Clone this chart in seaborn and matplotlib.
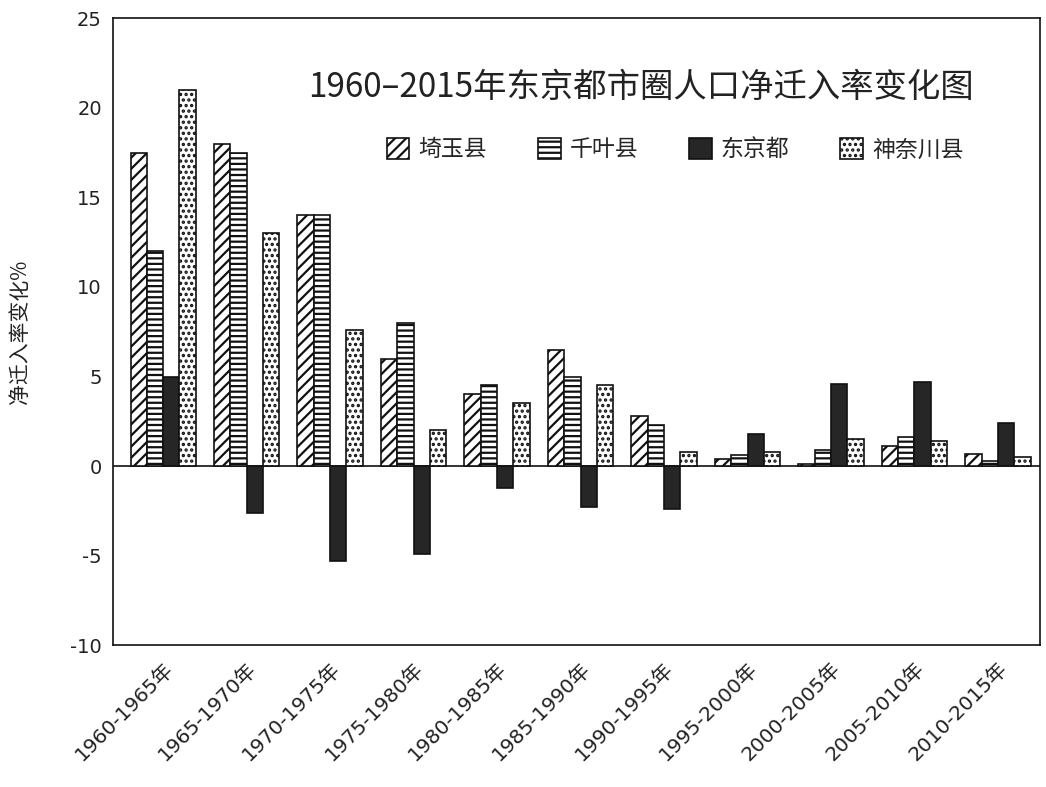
import matplotlib
matplotlib.use("Agg")
import matplotlib.pyplot as plt
import seaborn as sns
import pandas as pd
import numpy as np

periods = ["1960-1965年", "1965-1970年", "1970-1975年", "1975-1980年", "1980-1985年",
           "1985-1990年", "1990-1995年", "1995-2000年", "2000-2005年", "2005-2010年", "2010-2015年"]
saitama = [17.5, 18.0, 14.0, 6.0, 4.0, 6.5, 2.8, 0.4, 0.1, 1.1, 0.7]
chiba = [12.0, 17.5, 14.0, 8.0, 4.5, 5.0, 2.3, 0.6, 0.9, 1.6, 0.3]
tokyo = [5.0, -2.6, -5.3, -4.9, -1.2, -2.3, -2.4, 1.8, 4.6, 4.7, 2.4]
kanagawa = [21.0, 13.0, 7.6, 2.0, 3.5, 4.5, 0.8, 0.8, 1.5, 1.4, 0.5]
regions = ["埼玉县", "千叶县", "东京都", "神奈川县"]

sns.set_theme(style="white")
plt.rcParams['font.family'] = ['DejaVu Sans', 'Noto Sans CJK SC']
plt.rcParams['hatch.linewidth'] = 1.6

rows = []
for name, vals in zip(regions, [saitama, chiba, tokyo, kanagawa]):
    for p, v in zip(periods, vals):
        rows.append({"period": p, "region": name, "value": v})
df = pd.DataFrame(rows)

fig = plt.figure(figsize=(10.46, 7.87), dpi=100)
ax = fig.add_axes([0.108, 0.18, 0.886, 0.797])

sns.barplot(data=df, x="period", y="value", hue="region", hue_order=regions,
            order=periods, ax=ax, width=0.78, legend=False,
            palette=["white", "white", "#262626", "white"], edgecolor="#111111",
            linewidth=1.2, saturation=1)

hatches = ["///", "---", "", "..."]
for cont, h in zip(ax.containers, hatches):
    for bar in cont:
        bar.set_hatch(h)
        bar.set_edgecolor("#111111")

ax.axhline(0, color="#111111", lw=1.2, zorder=0)
ax.set_ylim(-10, 25)
ax.set_yticks([-10, -5, 0, 5, 10, 15, 20, 25])
ax.set_yticklabels(["-10", "-5", "0", "5", "10", "15", "20", "25"], fontsize=14, color="#222222")
ax.set_xlim(-0.6, 10.5)
ax.set_xlabel("")
ax.set_ylabel("净迁入率变化%", fontsize=15, family=['Noto Sans CJK SC'], labelpad=28, color="#222222")
ax.set_xticks(range(len(periods)))
ax.set_xticklabels(periods, rotation=45, ha="right", rotation_mode="anchor",
                   fontsize=14.5, family=['DejaVu Sans', 'Noto Sans CJK SC'], color="#222222")
ax.tick_params(axis="x", length=0, pad=10)
ax.tick_params(axis="y", length=0, pad=8)
for s in ax.spines.values():
    s.set_color("#111111")
    s.set_linewidth(1.2)

ax.text(0.57, 0.89, "1960–2015年东京都市圈人口净迁入率变化图", transform=ax.transAxes,
        ha="center", va="center", fontsize=24, color="#222222",
        family=['Noto Sans CJK SC', 'DejaVu Sans'])

handles = [cont.patches[0] for cont in ax.containers]
leg = ax.legend(handles, regions, loc="center right", bbox_to_anchor=(0.94, 0.79), ncol=4,
                frameon=False, handlelength=1.0, handleheight=1.0,
                columnspacing=2.2, handletextpad=0.4,
                prop={'family': ['Noto Sans CJK SC'], 'size': 16.5})

fig.savefig("out.png", dpi=100)
